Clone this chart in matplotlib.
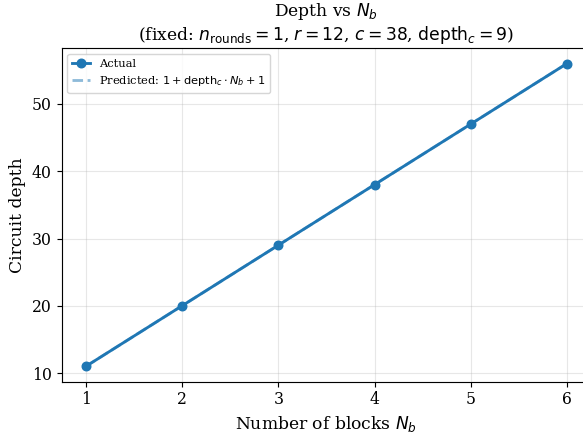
import matplotlib
matplotlib.use("Agg")
import matplotlib.pyplot as plt
import numpy as np

plt.rcParams['font.family'] = 'DejaVu Serif'
plt.rcParams['mathtext.fontset'] = 'dejavusans'

n_blocks = [1, 2, 3, 4, 5, 6]
actual_depth = [11, 20, 29, 38, 47, 56]
predicted_depth = [11, 20, 29, 38, 47, 56]

DPI = 102.5
fig, ax = plt.subplots(figsize=(583 / DPI, 436 / DPI), dpi=DPI)
ax.plot(n_blocks, actual_depth, marker='o', color='#1f77b4', linewidth=2, markersize=6, label='Actual')
ax.plot(n_blocks, predicted_depth, linestyle='--', color='#1f77b4', alpha=0.5, linewidth=2,
        label=r'Predicted: $1 + \mathrm{depth}_c \cdot N_b + 1$')
ax.set_xlabel(r'Number of blocks $N_b$', fontsize=12)
ax.set_ylabel('Circuit depth', fontsize=12)
ax.set_title('Depth vs $N_b$\n(fixed: $n_{\\mathrm{rounds}}=1$, $r=12$, $c=38$, $\\mathrm{depth}_c=9$)',
             fontsize=12, linespacing=1.1)
ax.tick_params(labelsize=11)
ax.grid(True, alpha=0.3)
ax.legend(loc='upper left', fontsize=8, handlelength=1.6)
fig.subplots_adjust(left=0.106, right=1.0137, top=0.889, bottom=0.125)
fig.savefig('out.png', dpi=DPI)
